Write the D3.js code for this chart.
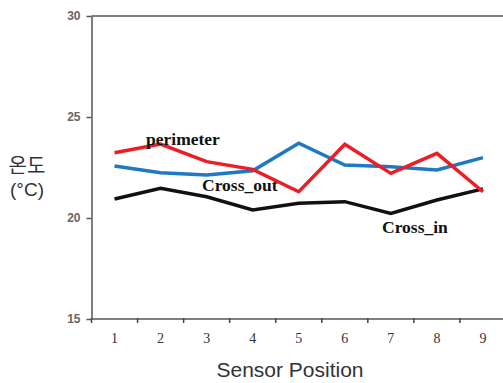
<!DOCTYPE html>
<html>
<head>
<meta charset="utf-8">
<script src="https://cdn.jsdelivr.net/npm/d3@7"></script>
<style>
  body { margin: 0; background: #fff; }
  svg { display: block; }
</style>
</head>
<body>
<script>
const positions = [1, 2, 3, 4, 5, 6, 7, 8, 9];
const perimeter = [23.23, 23.66, 22.79, 22.41, 21.30, 23.65, 22.21, 23.20, 21.30];
const crossOut = [22.57, 22.24, 22.13, 22.34, 23.70, 22.62, 22.54, 22.38, 22.99];
const crossIn = [20.94, 21.47, 21.05, 20.40, 20.73, 20.81, 20.23, 20.89, 21.44];
const yTicks = [15, 20, 25, 30];

const width = 503, height = 383;
const plot = {left: 91.5, right: 506, top: 16, bottom: 319};

const svg = d3.select("body").append("svg")
    .attr("width", width)
    .attr("height", height);

const x = d3.scaleBand()
    .domain(positions)
    .range([plot.left, plot.right]);
const y = d3.scaleLinear()
    .domain([15, 30])
    .range([plot.bottom, plot.top]);

// frame top line
svg.append("line")
    .attr("x1", plot.left).attr("x2", width)
    .attr("y1", y(30)).attr("y2", y(30))
    .attr("stroke", "#555").attr("stroke-width", 1.5);

const xAxis = svg.append("g")
    .attr("transform", "translate(0," + plot.bottom + ")")
    .call(d3.axisBottom(x).tickSize(0).tickPadding(14));
xAxis.select(".domain").attr("d", "M" + plot.left + ",0H" + width)
    .attr("stroke", "#555").attr("stroke-width", 1.5);
xAxis.selectAll("text")
    .attr("font-family", "'Liberation Serif', serif")
    .attr("font-size", 14)
    .attr("fill", "#333");
// boundary ticks between categories
xAxis.selectAll(".bnd")
    .data(positions)
    .enter().append("line")
    .attr("class", "bnd")
    .attr("x1", d => x(d)).attr("x2", d => x(d))
    .attr("y1", -1).attr("y2", 4)
    .attr("stroke", "#444").attr("stroke-width", 1.5);

const yAxis = svg.append("g")
    .attr("transform", "translate(" + plot.left + ",0)")
    .call(d3.axisLeft(y).tickValues(yTicks).tickSize(5).tickSizeOuter(0).tickPadding(6));
yAxis.select(".domain").attr("stroke", "#555").attr("stroke-width", 1.5);
yAxis.selectAll(".tick line").attr("stroke", "#555").attr("stroke-width", 1.5);
yAxis.selectAll("text")
    .attr("font-family", "'Liberation Sans', Arial, sans-serif")
    .attr("font-size", 12)
    .attr("font-weight", "bold")
    .attr("fill", "#666");

const line = d3.line()
    .x((d, i) => x(positions[i]) + x.bandwidth() / 2)
    .y(d => y(d));

const series = [
    {name: "crossIn", values: crossIn, color: "#111111"},
    {name: "crossOut", values: crossOut, color: "#1f78c4"},
    {name: "perimeter", values: perimeter, color: "#ee1c24"}
];

svg.selectAll(".series")
    .data(series)
    .enter().append("path")
    .attr("class", "series")
    .attr("d", d => line(d.values))
    .attr("fill", "none")
    .attr("stroke", d => d.color)
    .attr("stroke-width", 3.5)
    .attr("stroke-linejoin", "miter");

const labels = [
    {text: "perimeter", x: 146, y: 145},
    {text: "Cross_out", x: 202, y: 191},
    {text: "Cross_in", x: 382, y: 233}
];
svg.selectAll(".lbl")
    .data(labels)
    .enter().append("text")
    .attr("class", "lbl")
    .attr("x", d => d.x).attr("y", d => d.y)
    .attr("font-family", "'Liberation Serif', 'Times New Roman', serif")
    .attr("font-weight", "bold")
    .attr("font-size", 17.5)
    .attr("fill", "#111")
    .text(d => d.text);

// axis titles
svg.append("text")
    .attr("x", 27).attr("y", 173)
    .attr("text-anchor", "middle")
    .attr("font-family", "'Noto Sans CJK KR', 'Noto Sans CJK SC', sans-serif")
    .attr("font-size", 20)
    .attr("fill", "#333")
    .text("온도");
svg.append("text")
    .attr("x", 27).attr("y", 196)
    .attr("text-anchor", "middle")
    .attr("font-family", "'Liberation Sans', Arial, sans-serif")
    .attr("font-size", 19)
    .attr("fill", "#333")
    .text("(°C)");

svg.append("text")
    .attr("x", 290).attr("y", 377)
    .attr("text-anchor", "middle")
    .attr("font-family", "'Liberation Sans', Arial, sans-serif")
    .attr("font-size", 21)
    .attr("fill", "#333")
    .text("Sensor Position");
</script>
</body>
</html>
